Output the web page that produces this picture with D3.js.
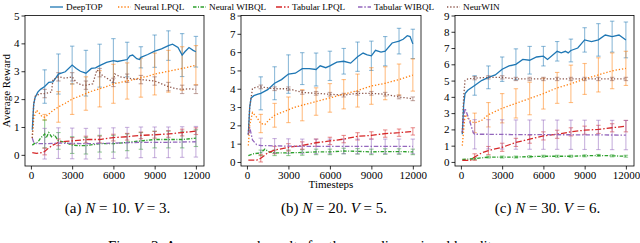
<!DOCTYPE html>
<html><head><meta charset="utf-8">
<script src="https://cdn.jsdelivr.net/npm/d3@7"></script>
<style>body{margin:0;background:#fff}svg{display:block}text{font-family:"Liberation Serif","Times New Roman",serif}</style>
</head><body><svg id="c" width="640" height="243"></svg>
<script>
const seriesNames = ["DeepTOP","Neural LPQL","Neural WIBQL","Tabular LPQL","Tabular WIBQL","NeurWIN"];
const xTicks = [0,3000,6000,9000,12000];
const errX = [1000,2000,3000,4000,5000,6000,7000,8000,9000,10000,11000,12000];
const yTicksA = [0,1,2,3,4,5];
const yTicksB = [0,1,2,3,4,5,6,7,8];
const yTicksC = [0,1,2,3,4,5,6,7,8,9];
const captions = [["(a) ","N"," = 10. ","V"," = 3."],["(b) ","N"," = 20. ","V"," = 5."],["(c) ","N"," = 30. ","V"," = 6."]];

// Panel (a)
const aDeepTOP = [[100,0.9],[200,1.8],[300,2.05],[500,2.25],[700,2.35],[1000,2.45],[1300,2.6],[1600,2.62],[1800,2.75],[2000,2.9],[2500,2.98],[3000,3.22],[3300,3.1],[3600,3.0],[4000,2.93],[4400,3.1],[4700,3.12],[5000,3.2],[5500,3.32],[6000,3.38],[6300,3.35],[7000,3.42],[7200,3.55],[7400,3.58],[7700,3.45],[7900,3.42],[8000,3.5],[8500,3.6],[9000,3.72],[9500,3.8],[10000,3.92],[10300,3.97],[10700,3.85],[11000,3.58],[11200,3.7],[11500,3.85],[11800,3.75],[12000,3.7]];
const aNeuralLPQL = [[100,0.6],[200,1.3],[400,1.6],[600,1.5],[800,1.38],[1000,1.35],[1200,1.42],[1500,1.55],[2000,1.72],[2500,1.85],[3000,2.0],[3500,2.1],[4000,2.2],[4500,2.3],[5000,2.37],[5500,2.45],[6000,2.55],[6500,2.6],[7000,2.65],[7500,2.7],[8000,2.77],[8500,2.82],[9000,2.9],[9500,2.95],[10000,3.0],[10500,3.05],[11000,3.1],[11500,3.15],[12000,3.22]];
const aNeuralWIBQL = [[100,0.35],[300,0.42],[500,0.45],[700,0.6],[900,0.7],[1000,0.75],[1100,0.6],[1300,0.8],[1500,0.65],[1700,0.72],[2000,0.5],[2500,0.45],[3000,0.35],[3500,0.33],[4000,0.33],[5000,0.4],[6000,0.4],[7000,0.45],[8000,0.5],[9000,0.55],[10000,0.55],[11000,0.55],[12000,0.6]];
const aTabularLPQL = [[100,0.08],[400,0.05],[800,0.08],[1000,0.12],[1300,0.25],[1600,0.35],[2000,0.45],[2500,0.48],[3000,0.5],[4000,0.55],[5000,0.55],[6000,0.62],[7000,0.65],[8000,0.7],[9000,0.72],[10000,0.75],[11000,0.8],[12000,0.85]];
const aTabularWIBQL = [[100,0.6],[200,0.45],[400,0.4],[1000,0.4],[2000,0.42],[4000,0.4],[6000,0.42],[8000,0.45],[10000,0.45],[12000,0.47]];
const aNeurWIN = [[100,0.6],[200,1.8],[300,2.1],[500,2.15],[700,2.2],[1000,2.2],[1500,2.25],[1600,2.7],[2000,2.8],[2500,2.75],[3000,2.8],[3300,2.6],[3700,2.5],[4000,2.5],[4500,2.55],[4800,3.05],[5200,2.85],[5700,2.7],[6000,2.6],[6100,2.9],[6500,2.8],[7000,2.75],[8000,2.7],[9000,2.65],[9500,2.55],[10000,2.45],[10500,2.38],[11000,2.35],[11500,2.37],[12000,2.35]];
const aErrDeepTOP = [0.6,0.72,0.68,0.82,0.77,0.79,0.62,0.38,0.58,0.53,0.77,0.55];
const aErrNeuralLPQL = [0.1,0.55,0.55,0.6,0.65,0.7,0.65,0.7,0.75,0.75,0.78,0.7];
const aErrNeuralWIBQL = [0.5,0.3,0.3,0.3,0.3,0.3,0.3,0.3,0.3,0.3,0.3,0.3];
const aErrTabularLPQL = [0.12,0.12,0.12,0.12,0.12,0.12,0.12,0.12,0.12,0.12,0.12,0.12];
const aErrTabularWIBQL = [0.55,0.55,0.55,0.55,0.55,0.55,0.55,0.55,0.55,0.55,0.55,0.55];
const aErrNeurWIN = [0.15,0.15,0.15,0.15,0.15,0.15,0.15,0.15,0.15,0.15,0.15,0.15];

// Panel (b)
const bDeepTOP = [[100,1.5],[200,3.0],[300,3.5],[500,3.62],[800,3.7],[1000,3.75],[1500,3.95],[2000,4.3],[2500,4.5],[3000,4.8],[3500,4.85],[4000,5.1],[4500,5.1],[5000,5.05],[5300,5.25],[5700,5.15],[6000,5.25],[6500,5.45],[7000,5.5],[7500,5.4],[8000,5.75],[8400,5.95],[8700,5.85],[9000,5.8],[9300,6.1],[9700,6.0],[10000,6.05],[10500,6.5],[11000,6.6],[11300,6.7],[11600,6.9],[11800,6.85],[12000,6.45]];
const bNeuralLPQL = [[100,0.9],[200,2.0],[400,2.7],[700,2.45],[1000,2.1],[1300,2.05],[1600,2.3],[2000,2.55],[2500,2.7],[3000,2.85],[3500,3.0],[4000,3.1],[4500,3.2],[5000,3.3],[5500,3.4],[6000,3.5],[7000,3.7],[8000,3.9],[9000,4.15],[10000,4.3],[11000,4.5],[12000,4.75]];
const bNeuralWIBQL = [[100,0.35],[500,0.45],[1000,0.5],[1300,0.7],[1600,0.55],[2000,0.5],[3000,0.5],[4000,0.52],[5000,0.55],[6000,0.55],[7000,0.6],[8000,0.58],[9000,0.55],[10000,0.57],[11000,0.57],[12000,0.55]];
const bTabularLPQL = [[100,0.1],[700,0.1],[1000,0.2],[1500,0.5],[2000,0.65],[3000,0.8],[4000,0.9],[5000,1.05],[6000,1.15],[7000,1.25],[8000,1.4],[9000,1.45],[10000,1.55],[11000,1.6],[12000,1.67]];
const bTabularWIBQL = [[100,1.5],[200,1.9],[400,1.2],[700,0.95],[1000,0.9],[2000,0.88],[4000,0.85],[8000,0.85],[12000,0.85]];
const bNeurWIN = [[100,1.5],[200,3.0],[400,4.0],[700,4.1],[1000,4.1],[1500,4.05],[2000,4.0],[3000,4.0],[4000,3.8],[5000,3.75],[6000,3.7],[7000,3.65],[8000,3.75],[9000,3.75],[10000,3.7],[11000,3.55],[12000,3.45]];
const bErrDeepTOP = [0.9,0.9,1.05,0.87,0.9,0.8,0.7,0.8,0.8,0.8,0.7,0.8];
const bErrNeuralLPQL = [0.5,0.65,0.7,0.85,0.75,0.78,0.8,0.9,1.0,0.9,0.85,0.88];
const bErrNeuralWIBQL = [0.15,0.15,0.15,0.15,0.15,0.15,0.15,0.15,0.15,0.15,0.15,0.15];
const bErrTabularLPQL = [0.2,0.2,0.2,0.2,0.2,0.2,0.2,0.2,0.2,0.2,0.2,0.2];
const bErrTabularWIBQL = [0.4,0.4,0.4,0.4,0.4,0.4,0.4,0.4,0.4,0.4,0.4,0.4];
const bErrNeurWIN = [0.1,0.1,0.1,0.1,0.1,0.1,0.1,0.1,0.1,0.1,0.1,0.1];

// Panel (c)
const cDeepTOP = [[100,1.7],[200,3.5],[300,4.2],[500,4.4],[1000,4.7],[1500,5.0],[2000,5.2],[2500,5.35],[3000,5.7],[3500,5.9],[4000,6.0],[4500,6.3],[5000,6.25],[5500,6.45],[6000,6.5],[6300,6.3],[7000,6.8],[7300,6.7],[7600,6.8],[7800,6.7],[8000,6.85],[8500,7.0],[9000,7.5],[9500,7.4],[10000,7.5],[10500,7.8],[11000,7.7],[11500,7.8],[12000,7.5]];
const cNeuralLPQL = [[100,1.0],[300,2.9],[500,2.7],[700,2.5],[1000,2.4],[1500,2.55],[2000,2.9],[3000,3.3],[4000,3.6],[5000,3.9],[6000,4.2],[7000,4.55],[8000,4.8],[9000,5.1],[10000,5.35],[11000,5.6],[12000,5.75]];
const cNeuralWIBQL = [[100,0.15],[1000,0.2],[2000,0.3],[4000,0.3],[6000,0.35],[8000,0.35],[10000,0.4],[12000,0.35]];
const cTabularLPQL = [[100,0.1],[700,0.1],[1000,0.3],[1500,0.55],[2000,0.7],[3000,0.9],[4000,1.2],[5000,1.4],[6000,1.6],[7000,1.7],[8000,1.85],[9000,1.95],[10000,2.0],[11000,2.1],[12000,2.2]];
const cTabularWIBQL = [[100,1.8],[200,2.6],[300,3.3],[600,2.6],[900,1.8],[1000,1.7],[2000,1.7],[4000,1.68],[8000,1.67],[12000,1.65]];
const cNeurWIN = [[100,1.8],[200,4.0],[300,5.0],[500,5.1],[1000,5.15],[2000,5.2],[3000,5.2],[4000,5.1],[8000,5.1],[12000,5.1]];
const cErrDeepTOP = [0.6,0.7,0.75,0.95,0.85,0.6,0.6,0.7,0.75,1.0,0.95,1.1];
const cErrNeuralLPQL = [0.6,0.75,0.9,0.9,1.0,0.95,0.95,1.15,0.95,1.05,1.1,1.05];
const cErrNeuralWIBQL = [0.06,0.06,0.06,0.06,0.06,0.06,0.06,0.06,0.06,0.06,0.06,0.06];
const cErrTabularLPQL = [0.2,0.25,0.25,0.25,0.25,0.25,0.25,0.25,0.25,0.25,0.25,0.35];
const cErrTabularWIBQL = [0.9,0.9,0.9,0.9,0.9,0.9,0.9,0.9,0.9,0.9,0.9,0.9];
const cErrNeurWIN = [0.1,0.1,0.1,0.1,0.1,0.1,0.1,0.1,0.1,0.1,0.1,0.1];

const colors = ["#1f77b4","#ff7f0e","#2ca02c","#d62728","#9467bd","#8c564b"];
const dashes = [null,"1.3,1.9","3.5,1.5,1,1.5","6,2,1.5,2","4.5,1.8,1.5,1.8","1.3,1.9"];
const FONT = "Liberation Serif";
const legendStarts = [50,118,193,276,358,447];

const panels = [
  {left:25,right:204,ymin:-0.4,ymax:5,yTicks:yTicksA,curves:[aDeepTOP,aNeuralLPQL,aNeuralWIBQL,aTabularLPQL,aTabularWIBQL,aNeurWIN],errs:[aErrDeepTOP,aErrNeuralLPQL,aErrNeuralWIBQL,aErrTabularLPQL,aErrTabularWIBQL,aErrNeurWIN]},
  {left:241,right:421,ymin:-0.22,ymax:8,yTicks:yTicksB,curves:[bDeepTOP,bNeuralLPQL,bNeuralWIBQL,bTabularLPQL,bTabularWIBQL,bNeurWIN],errs:[bErrDeepTOP,bErrNeuralLPQL,bErrNeuralWIBQL,bErrTabularLPQL,bErrTabularWIBQL,bErrNeurWIN]},
  {left:455,right:634,ymin:-0.25,ymax:9,yTicks:yTicksC,curves:[cDeepTOP,cNeuralLPQL,cNeuralWIBQL,cTabularLPQL,cTabularWIBQL,cNeurWIN],errs:[cErrDeepTOP,cErrNeuralLPQL,cErrNeuralWIBQL,cErrTabularLPQL,cErrTabularWIBQL,cErrNeurWIN]}
];
const plotTop = 15.5, plotBottom = 166;
const svg = d3.select("#c");

function interp(curve, x){
  for(let i=0;i<curve.length-1;i++){
    const [x0,y0]=curve[i],[x1,y1]=curve[i+1];
    if(x>=x0 && x<=x1) return y0+(y1-y0)*(x-x0)/(x1-x0);
  }
  return curve[curve.length-1][1];
}

panels.forEach((p,pi)=>{
  const x = d3.scaleLinear().domain([-430,12590]).range([p.left,p.right]);
  const y = d3.scaleLinear().domain([p.ymin,p.ymax]).range([plotBottom,plotTop]);
  const g = svg.append("g");
  p.curves.forEach((c,si)=>{
    const eg = g.append("g").attr("stroke",colors[si]).attr("stroke-opacity",0.5).attr("stroke-width",1.1).attr("fill","none");
    errX.forEach((ex,k)=>{
      const m = interp(c,ex), e = p.errs[si][k];
      const px = x(ex), y1 = y(m+e), y2 = y(m-e);
      eg.append("line").attr("x1",px).attr("x2",px).attr("y1",y1).attr("y2",y2);
      eg.append("line").attr("x1",px-2.2).attr("x2",px+2.2).attr("y1",y1).attr("y2",y1);
      eg.append("line").attr("x1",px-2.2).attr("x2",px+2.2).attr("y1",y2).attr("y2",y2);
    });
  });
  const line = d3.line().x(d=>x(d[0])).y(d=>y(d[1]));
  p.curves.forEach((c,si)=>{
    g.append("path").datum(c).attr("d",line).attr("fill","none").attr("stroke",colors[si])
      .attr("stroke-width",1.3).attr("stroke-dasharray",dashes[si]);
  });
  const xa = g.append("g").attr("transform",`translate(0,${plotBottom})`)
    .call(d3.axisBottom(x).tickValues(xTicks).tickFormat(d3.format("d")).tickSize(3.5).tickSizeOuter(0));
  const ya = g.append("g").attr("transform",`translate(${p.left},0)`)
    .call(d3.axisLeft(y).tickValues(p.yTicks).tickFormat(d3.format("d")).tickSize(3.5).tickSizeOuter(0));
  [xa,ya].forEach(a=>{
    a.attr("font-family",FONT).attr("font-size",11);
    a.select(".domain").remove();
    a.selectAll("line").attr("stroke","#000").attr("stroke-width",0.8);
    a.selectAll("text").attr("font-family",FONT).attr("font-size",11).attr("fill","#000");
  });
  xa.selectAll("text").attr("dy","0.71em").attr("y",5.5);
  ya.selectAll("text").attr("x",-5.5);
  g.append("rect").attr("x",p.left).attr("y",plotTop).attr("width",p.right-p.left).attr("height",plotBottom-plotTop)
    .attr("fill","none").attr("stroke","#000").attr("stroke-width",0.8);
  const cap = svg.append("text").attr("x",(p.left+p.right)/2+3).attr("y",212.5).attr("text-anchor","middle")
    .attr("font-family",FONT).attr("font-size",15).attr("fill","#000");
  captions[pi].forEach((t,k)=>cap.append("tspan").text(t).attr("font-style",(k===1||k===3)?"italic":"normal"));
});

svg.append("text").attr("transform","translate(10,90.7) rotate(-90)").attr("text-anchor","middle")
  .attr("font-family",FONT).attr("font-size",11).attr("fill","#000").text("Average Reward");
svg.append("text").attr("x",331).attr("y",188).attr("text-anchor","middle")
  .attr("font-family",FONT).attr("font-size",11).attr("fill","#000").text("Timesteps");

const leg = svg.append("g");
seriesNames.forEach((n,i)=>{
  const lx = legendStarts[i];
  leg.append("line").attr("x1",lx).attr("x2",lx+13).attr("y1",7).attr("y2",7)
    .attr("stroke",colors[i]).attr("stroke-width",1.3).attr("stroke-dasharray",dashes[i]);
  leg.append("text").attr("x",lx+16).attr("y",10.2).attr("font-family",FONT)
    .attr("font-size",9.2).attr("fill","#000").text(n);
});

svg.append("text").attr("x",108).attr("y",251).attr("font-family",FONT)
  .attr("font-size",15).attr("fill","#000").text("Figure 3: Average reward results for the one-dimensional bandits.");
</script></body></html>
